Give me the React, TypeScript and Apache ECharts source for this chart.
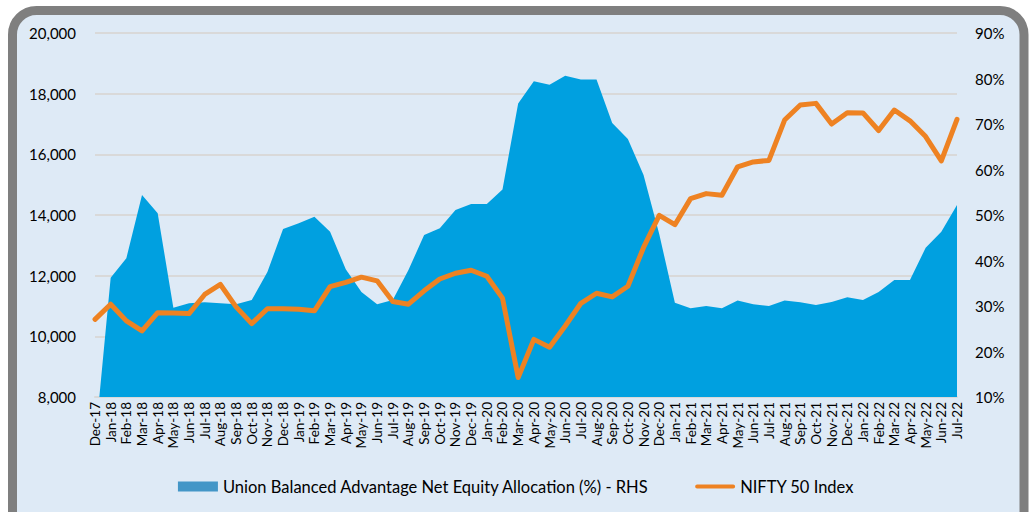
import React, { useEffect, useRef } from "react";
import * as echarts from "echarts";

const categories: string[] = [
  "Dec-17",
  "Jan-18", "Feb-18", "Mar-18", "Apr-18", "May-18", "Jun-18", "Jul-18", "Aug-18", "Sep-18", "Oct-18", "Nov-18", "Dec-18",
  "Jan-19", "Feb-19", "Mar-19", "Apr-19", "May-19", "Jun-19", "Jul-19", "Aug-19", "Sep-19", "Oct-19", "Nov-19", "Dec-19",
  "Jan-20", "Feb-20", "Mar-20", "Apr-20", "May-20", "Jun-20", "Jul-20", "Aug-20", "Sep-20", "Oct-20", "Nov-20", "Dec-20",
  "Jan-21", "Feb-21", "Mar-21", "Apr-21", "May-21", "Jun-21", "Jul-21", "Aug-21", "Sep-21", "Oct-21", "Nov-21", "Dec-21",
  "Jan-22", "Feb-22", "Mar-22", "Apr-22", "May-22", "Jun-22", "Jul-22",
];

// Net equity allocation (%) - RHS
const equityAllocation: number[] = [
  0,
  36.2, 40.5, 54.4, 50.4, 29.6, 30.6, 30.8, 30.6, 30.4, 31.3, 37.5, 46.9,
  48.2, 49.6, 46.3, 38.1, 33.1, 30.4, 31.3, 37.9, 45.6, 47.1, 51.1, 52.4,
  52.4, 55.6, 74.5, 79.4, 78.6, 80.6, 79.8, 79.8, 70.2, 66.7, 58.8, 45.8,
  30.7, 29.5, 30.0, 29.5, 31.2, 30.4, 30.0, 31.2, 30.8, 30.2, 30.9, 31.9,
  31.3, 33.1, 35.7, 35.7, 42.8, 46.3, 52.2,
];

// NIFTY 50 Index - LHS
const nifty50: number[] = [
  10560,
  11060, 10510, 10180, 10780, 10770, 10750, 11380, 11710, 10970, 10420, 10910, 10910,
  10890, 10840, 11640, 11780, 11950, 11830, 11150, 11060, 11500, 11890, 12080, 12180,
  11980, 11260, 8640, 9900, 9640, 10340, 11090, 11420, 11300, 11650, 12930, 13990,
  13680, 14540, 14705, 14650, 15590, 15750, 15800, 17130, 17625, 17680, 17000, 17370,
  17365, 16785, 17460, 17105, 16585, 15785, 17155,
];

const leftTicks = { min: 8000, max: 20000, interval: 2000 };
const rightTicks = { min: 10, max: 90, interval: 10 };

const SERIES_AREA = "Union Balanced Advantage Net Equity Allocation (%) - RHS";
const SERIES_LINE = "NIFTY 50 Index";

const FONT = "Lato, 'Open Sans', sans-serif";

export default function App() {
  const ref = useRef<HTMLDivElement>(null);

  useEffect(() => {
    if (!ref.current) return;
    const chart = echarts.init(ref.current, undefined, { renderer: "svg" });
    const lineIcon =
      "path://M0,0L0.01,0Z M2,3L38,3A2,2 0 0 1 38,7L2,7A2,2 0 0 1 2,3Z M0,10L0.01,10Z";
    chart.setOption({
      animation: false,
      backgroundColor: "#ffffff",
      textStyle: { fontFamily: FONT },
      graphic: [
        {
          type: "rect",
          silent: true,
          z: -10,
          shape: { x: 12.5, y: 10.5, width: 1011.5, height: 530, r: 24 },
          style: { fill: "#DEEAF6", stroke: "#7F7F7F", lineWidth: 9 },
        },
      ],
      grid: { left: 95, right: 75, top: 33, bottom: 115, containLabel: false },
      legend: {
        bottom: 12,
        left: "center",
        itemGap: 46,
        itemWidth: 40,
        itemHeight: 10,
        textStyle: { fontSize: 16.5, color: "#000", fontFamily: FONT },
        data: [
          { name: SERIES_AREA, icon: "rect", itemStyle: { color: "#4396C7" } },
          { name: SERIES_LINE, icon: lineIcon, itemStyle: { color: "#EE8222" } },
        ],
      },
      xAxis: {
        type: "category",
        data: categories,
        boundaryGap: false,
        axisLine: { show: true, lineStyle: { color: "#D9D9D9", width: 2 } },
        axisTick: { show: false },
        axisLabel: {
          interval: 0,
          rotate: 90,
          fontSize: 13.5,
          color: "#000",
          margin: 5,
          fontFamily: FONT,
        },
      },
      yAxis: [
        {
          type: "value",
          position: "left",
          min: leftTicks.min,
          max: leftTicks.max,
          interval: leftTicks.interval,
          axisLine: { show: false },
          axisTick: { show: false },
          splitLine: { show: true, lineStyle: { color: "#D9D9D9", width: 2 } },
          axisLabel: {
            fontSize: 15,
            color: "#000",
            margin: 19,
            fontFamily: FONT,
            formatter: (v: number) => v.toLocaleString("en-US"),
          },
        },
        {
          type: "value",
          position: "right",
          min: rightTicks.min,
          max: rightTicks.max,
          interval: rightTicks.interval,
          axisLine: { show: false },
          axisTick: { show: false },
          splitLine: { show: false },
          axisLabel: {
            fontSize: 15,
            color: "#000",
            margin: 18,
            fontFamily: FONT,
            formatter: "{value}%",
          },
        },
      ],
      series: [
        {
          name: SERIES_AREA,
          type: "line",
          yAxisIndex: 1,
          data: equityAllocation,
          symbol: "none",
          lineStyle: { width: 0, color: "#00A0E0" },
          itemStyle: { color: "#00A0E0" },
          areaStyle: { color: "#00A0E0", opacity: 1, origin: "start" },
          z: 2,
        },
        {
          name: SERIES_LINE,
          type: "line",
          yAxisIndex: 0,
          data: nifty50,
          symbol: "none",
          lineStyle: { width: 5, color: "#EE8222", cap: "round", join: "round" },
          itemStyle: { color: "#EE8222" },
          z: 3,
        },
      ],
    });
    return () => chart.dispose();
  }, []);

  return (
    <div
      ref={ref}
      style={{ position: "fixed", left: 0, top: 0, width: 1032, height: 512 }}
    />
  );
}
